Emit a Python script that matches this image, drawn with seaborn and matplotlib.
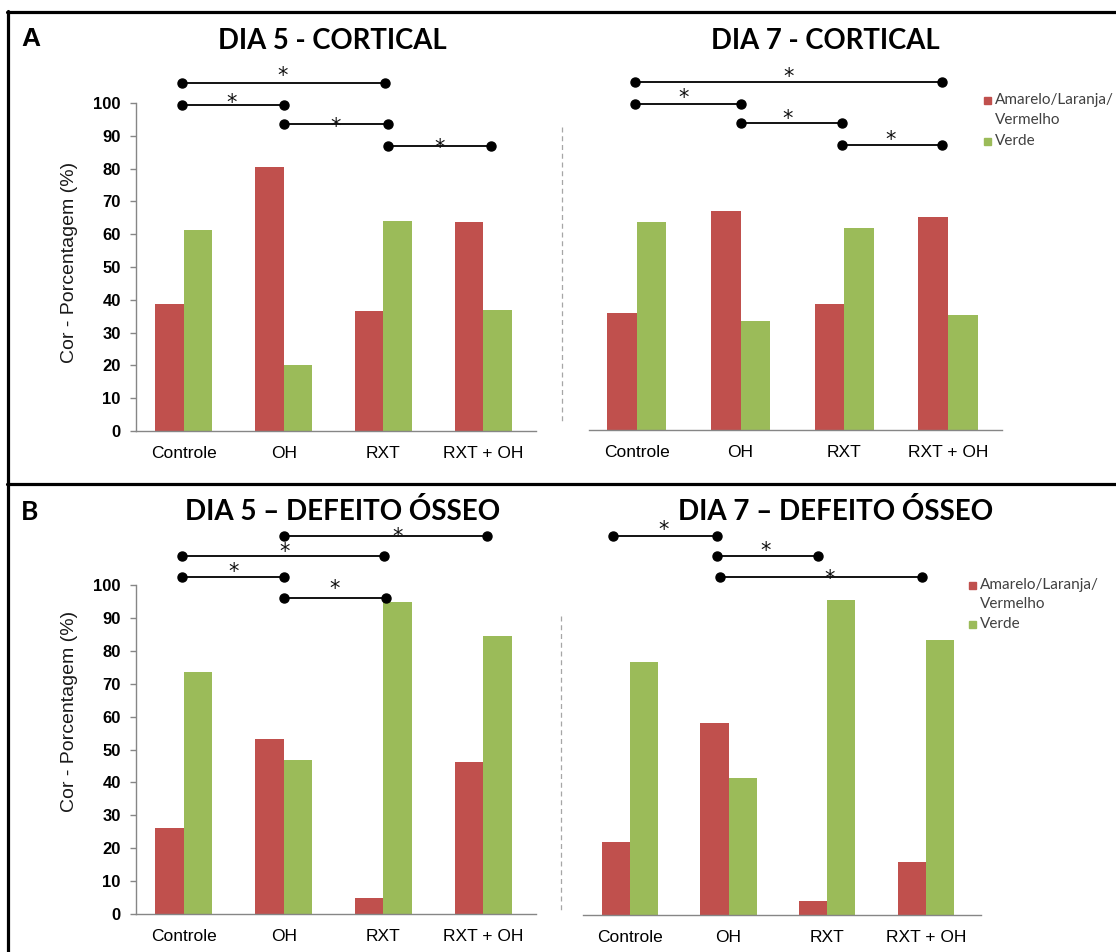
import matplotlib
matplotlib.use("Agg")
import matplotlib.pyplot as plt
from matplotlib.lines import Line2D
from matplotlib.patches import Rectangle
import seaborn as sns
import pandas as pd

sns.set_theme(style="white")
plt.rcParams["font.family"] = ["Liberation Sans", "DejaVu Sans"]

# ---- data -------------------------------------------------------------
grupos = ["Controle", "OH", "RXT", "RXT + OH"]
cores = ["Amarelo/Laranja/Vermelho", "Verde"]

d5_cortical_verm = [38.7, 80.4, 36.5, 63.7]
d5_cortical_verde = [61.3, 20.1, 63.9, 36.9]
d7_cortical_verm = [35.7, 66.8, 38.4, 65.0]
d7_cortical_verde = [63.4, 33.2, 61.6, 35.0]
d5_defeito_verm = [26.1, 53.2, 4.9, 46.2]
d5_defeito_verde = [73.6, 46.8, 94.8, 84.5]
d7_defeito_verm = [22.1, 58.3, 4.3, 16.0]
d7_defeito_verde = [76.9, 41.6, 95.7, 83.5]

yticks = [0, 10, 20, 30, 40, 50, 60, 70, 80, 90, 100]
ylabel = "Cor - Porcentagem (%)"
legend_labels = ["Amarelo/Laranja/", "Vermelho", "Verde"]
titulos = ["DIA 5 - CORTICAL", "DIA 7 - CORTICAL",
           "DIA 5 \u2013 DEFEITO \u00d3SSEO", "DIA 7 \u2013 DEFEITO \u00d3SSEO"]

# significance bars: (x_start, x_end, y) in group units / percent
sig_d5_cort = [(-0.02, 2.02, 106.0), (-0.02, 1.0, 99.5), (1.0, 2.05, 93.5), (2.05, 3.08, 87.0)]
star_d5_cort = [(0.99, 110.0), (0.48, 101.8), (1.52, 94.6), (2.56, 88.0)]
sig_d7_cort = [(-0.02, 2.94, 106.0), (-0.02, 1.0, 99.5), (1.0, 1.98, 93.5), (1.98, 2.94, 87.0)]
star_d7_cort = [(1.46, 109.3), (0.45, 103.0), (1.45, 96.7), (2.45, 90.2)]
sig_d5_def = [(1.0, 3.04, 114.9), (-0.02, 2.01, 108.8), (-0.02, 1.0, 102.4), (1.0, 2.03, 96.0)]
star_d5_def = [(2.14, 116.4), (1.01, 111.9), (0.5, 105.8), (1.51, 100.6)]
sig_d7_def = [(-0.17, 0.88, 115.2), (0.88, 1.91, 109.1), (0.91, 2.96, 102.7)]
star_d7_def = [(0.34, 118.8), (1.38, 112.5), (2.02, 104.0)]

VERMELHO = "#C0504D"
VERDE = "#9BBB59"
EIXO = "#868686"

W, H = 1116, 952
fig = plt.figure(figsize=(W / 100, H / 100), dpi=100)


def frac_box(x0, x1, y_base, px_per_unit=3.28):
    """Axes rectangle from pixel positions (top-left origin)."""
    height = 100 * px_per_unit
    return [x0 / W, (H - y_base) / H, (x1 - x0) / W, height / H]


def painel(box, xlim, verm, verde, show_y, sig, stars):
    ax = fig.add_axes(box)
    df = pd.DataFrame({
        "grupo": grupos * 2,
        "cor": [cores[0]] * 4 + [cores[1]] * 4,
        "valor": verm + verde,
    })
    sns.barplot(data=df, x="grupo", y="valor", hue="cor", order=grupos,
                hue_order=cores, palette=[VERMELHO, VERDE], saturation=1,
                width=0.57, linewidth=0, legend=False, errorbar=None, ax=ax)
    ax.set_xlim(*xlim)
    ax.set_ylim(0, 100)
    ax.set_xlabel("")
    ax.set_ylabel("")
    for s in ["top", "right"]:
        ax.spines[s].set_visible(False)
    ax.spines["bottom"].set_color(EIXO)
    ax.spines["bottom"].set_linewidth(1.0)
    ax.tick_params(axis="x", length=0, pad=11, labelsize=12.5, labelcolor="black")
    if show_y:
        ax.spines["left"].set_color(EIXO)
        ax.spines["left"].set_linewidth(1.0)
        ax.set_yticks(yticks)
        ax.tick_params(axis="y", left=True, length=4, width=1.0, color=EIXO,
                       pad=7, labelsize=12, labelcolor="black")
        for t in ax.get_yticklabels():
            t.set_fontweight("bold")
    else:
        ax.spines["left"].set_visible(False)
        ax.set_yticks([])
    for x0, x1, y in sig:
        ax.plot([x0, x1], [y, y], color="black", lw=1.3, marker="o",
                markersize=6.5, clip_on=False, zorder=5)
    for x, y in stars:
        ax.annotate("*", (x, y), xytext=(0, -8.5), textcoords="offset points",
                    ha="center", va="baseline", fontsize=15, color="#111111",
                    family=["DejaVu Sans"], annotation_clip=False, zorder=6)
    ax.patch.set_alpha(0)
    return ax


ax1 = painel(frac_box(136, 536, 431), (-0.48, 3.53),
             d5_cortical_verm, d5_cortical_verde, True, sig_d5_cort, star_d5_cort)
ax2 = painel(frac_box(589, 1002, 430), (-0.46, 3.52),
             d7_cortical_verm, d7_cortical_verde, False, sig_d7_cort, star_d7_cort)
ax3 = painel(frac_box(136, 536, 914, 3.29), (-0.48, 3.53),
             d5_defeito_verm, d5_defeito_verde, True, sig_d5_def, star_d5_def)
ax4 = painel(frac_box(583, 981, 915, 3.29), (-0.476, 3.56),
             d7_defeito_verm, d7_defeito_verde, False, sig_d7_def, star_d7_def)


def px(x, y):
    return x / W, 1 - y / H


# y-axis labels
for ycen in (262, 711):
    fig.text(*px(70, ycen), ylabel, rotation=90, ha="center", va="center",
             fontsize=14, color="#1a1a1a")

# titles
title_font = ["Lato", "DejaVu Sans"]
for (xc, yc), t, fs in zip([(332, 41), (825, 41), (343, 511), (836, 512)], titulos,
                           (19.8, 19.8, 20, 20)):
    fig.text(*px(xc, yc), t, ha="center", va="center", fontsize=fs,
             fontweight="bold", family=title_font, color="black")

# panel letters
fig.text(*px(31, 39), "A", ha="center", va="center", fontsize=19,
         fontweight="bold", color="black")
fig.text(*px(30, 512), "B", ha="center", va="center", fontsize=19,
         fontweight="bold", family=title_font, color="black")

# dashed separators beside the right-hand charts
fig.add_artist(Line2D([562 / W] * 2, [1 - 127 / H, 1 - 423 / H], color="#A6A6A6",
                      lw=0.9, ls=(0, (4, 3))))
fig.add_artist(Line2D([561 / W] * 2, [1 - 616 / H, 1 - 913 / H], color="#A6A6A6",
                      lw=0.9, ls=(0, (4, 3))))

# legends
def legenda(xsq, ytops, size, fs):
    y_red, y_verm, y_green = ytops
    for yc, col in ((y_red, VERMELHO), (y_green, VERDE)):
        fig.add_artist(Rectangle(px(xsq, yc + size / 2), size / W, size / H,
                                 color=col, transform=fig.transFigure))
    xt = xsq + size + 4
    for yc, lab in zip(ytops, legend_labels):
        fig.text(*px(xt, yc), lab, ha="left", va="center", fontsize=fs,
                 family=title_font, color="#404040")

legenda(984, (100, 120, 141), 7, 11)
legenda(969, (585, 604, 624), 7, 11)

# frame lines
lw_frame = 2.3
fig.add_artist(Line2D([7 / W, 1], [1 - 11.5 / H] * 2, color="black", lw=lw_frame))
fig.add_artist(Line2D([7.5 / W] * 2, [1 - 10.5 / H, 0], color="black", lw=lw_frame))
fig.add_artist(Line2D([7 / W, 1], [1 - 484.5 / H] * 2, color="black", lw=lw_frame))

fig.savefig("out.png", dpi=100, facecolor="white")
